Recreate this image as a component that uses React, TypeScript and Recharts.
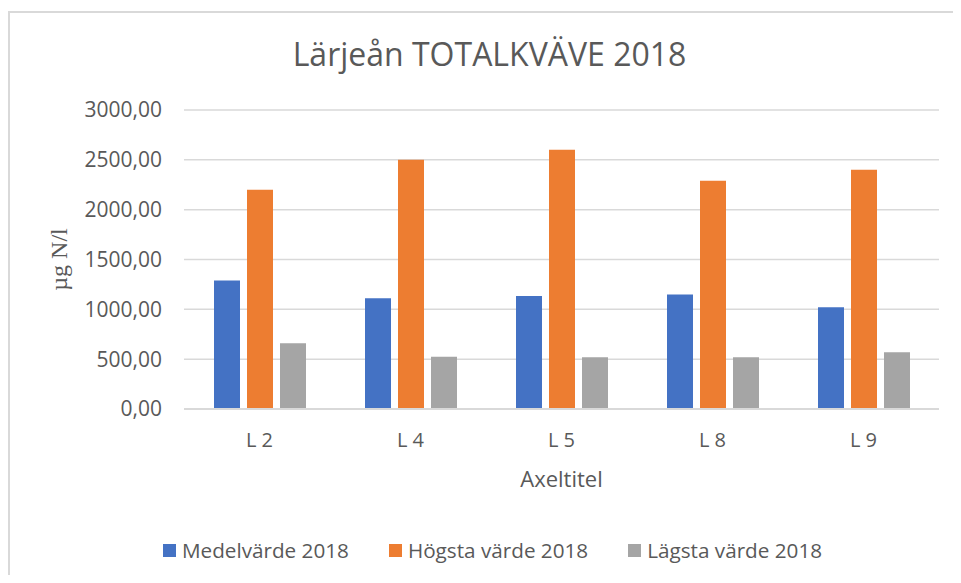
import { BarChart, Bar, XAxis, YAxis, CartesianGrid } from 'recharts'

const categories = ['L 2', 'L 4', 'L 5', 'L 8', 'L 9']
const medelvarde = [1290, 1110, 1135, 1150, 1020]
const hogstaVarde = [2200, 2500, 2600, 2290, 2400]
const lagstaVarde = [660, 525, 520, 520, 570]
const yTicks = [0, 500, 1000, 1500, 2000, 2500, 3000]

const series = [
  { key: 'medel', name: 'Medelvärde 2018', color: '#4472C4', values: medelvarde },
  { key: 'hogsta', name: 'Högsta värde 2018', color: '#ED7D31', values: hogstaVarde },
  { key: 'lagsta', name: 'Lägsta värde 2018', color: '#A5A5A5', values: lagstaVarde },
]

const data = categories.map((cat, i) => {
  const row: any = { cat }
  series.forEach((s) => {
    row[s.key] = s.values[i]
  })
  return row
})

const FONT = '"Open Sans", sans-serif'
const TEXT = '#595959'
const GRID = '#D9D9D9'

const W = 953
const H = 567

export default function App() {
  return (
    <div style={{ position: 'relative', width: W, height: H, overflow: 'hidden', fontFamily: FONT }}>
      {/* chart frame, only top and left edge visible */}
      <div
        style={{
          position: 'absolute',
          left: 0,
          top: 3,
          width: W + 20,
          height: H + 20,
          borderTop: `2px solid ${GRID}`,
          borderLeft: `2px solid ${GRID}`,
          boxSizing: 'border-box',
        }}
      />
      <div
        style={{
          position: 'absolute',
          top: 30,
          left: 0,
          width: W,
          paddingLeft: 10,
          boxSizing: 'border-box',
          textAlign: 'center',
          fontSize: 32,
          lineHeight: '32px',
          color: TEXT,
        }}
      >
        Lärjeån TOTALKVÄVE 2018
      </div>
      <BarChart
        width={W}
        height={H}
        data={data}
        margin={{ top: 102, right: 22, bottom: 86, left: 20 }}
        barSize={26}
        barGap={7}
        style={{ position: 'absolute', left: 0, top: 0 }}
      >
        <CartesianGrid vertical={false} stroke={GRID} strokeWidth={1.5} />
        <XAxis
          dataKey="cat"
          height={80}
          tickLine={false}
          tickSize={0}
          tickMargin={24}
          axisLine={{ stroke: GRID, strokeWidth: 2 }}
          tick={{ fill: TEXT, fontSize: 20, fontFamily: FONT }}
          label={({ viewBox }: any) => (
            <text
              x={viewBox.x + viewBox.width / 2}
              y={viewBox.y + 69}
              textAnchor="middle"
              dominantBaseline="central"
              fill={TEXT}
              fontSize={22}
              fontFamily={FONT}
            >
              Axeltitel
            </text>
          )}
        />
        <YAxis
          width={156}
          domain={[0, 3000]}
          ticks={yTicks}
          interval={0}
          tickLine={false}
          axisLine={false}
          tickSize={0}
          tickMargin={22}
          tickFormatter={(v: number) => v.toFixed(2).replace('.', ',')}
          tick={{ fill: TEXT, fontSize: 21, fontFamily: FONT }}
          label={({ viewBox }: any) => {
            const cx = viewBox.x + 31
            const cy = viewBox.y + viewBox.height / 2
            return (
              <text
                x={cx}
                y={cy}
                transform={`rotate(-90, ${cx}, ${cy})`}
                textAnchor="middle"
                dominantBaseline="central"
                fill={TEXT}
                fontSize={24}
                fontFamily='"Liberation Serif", "Times New Roman", serif'
              >
                µg N/l
              </text>
            )
          }}
        />
        {series.map((s) => (
          <Bar key={s.key} dataKey={s.key} name={s.name} fill={s.color} isAnimationActive={false} />
        ))}
      </BarChart>
      {/* legend */}
      <div
        style={{
          position: 'absolute',
          top: 528,
          left: 0,
          width: W,
          paddingLeft: 16,
          boxSizing: 'border-box',
          display: 'flex',
          justifyContent: 'center',
          gap: 40,
          fontSize: 20.7,
          lineHeight: '28px',
          color: TEXT,
        }}
      >
        {series.map((s) => (
          <div key={s.key} style={{ display: 'flex', alignItems: 'center' }}>
            <span style={{ width: 13, height: 13, background: s.color, marginRight: 6, display: 'inline-block' }} />
            <span>{s.name}</span>
          </div>
        ))}
      </div>
    </div>
  )
}
